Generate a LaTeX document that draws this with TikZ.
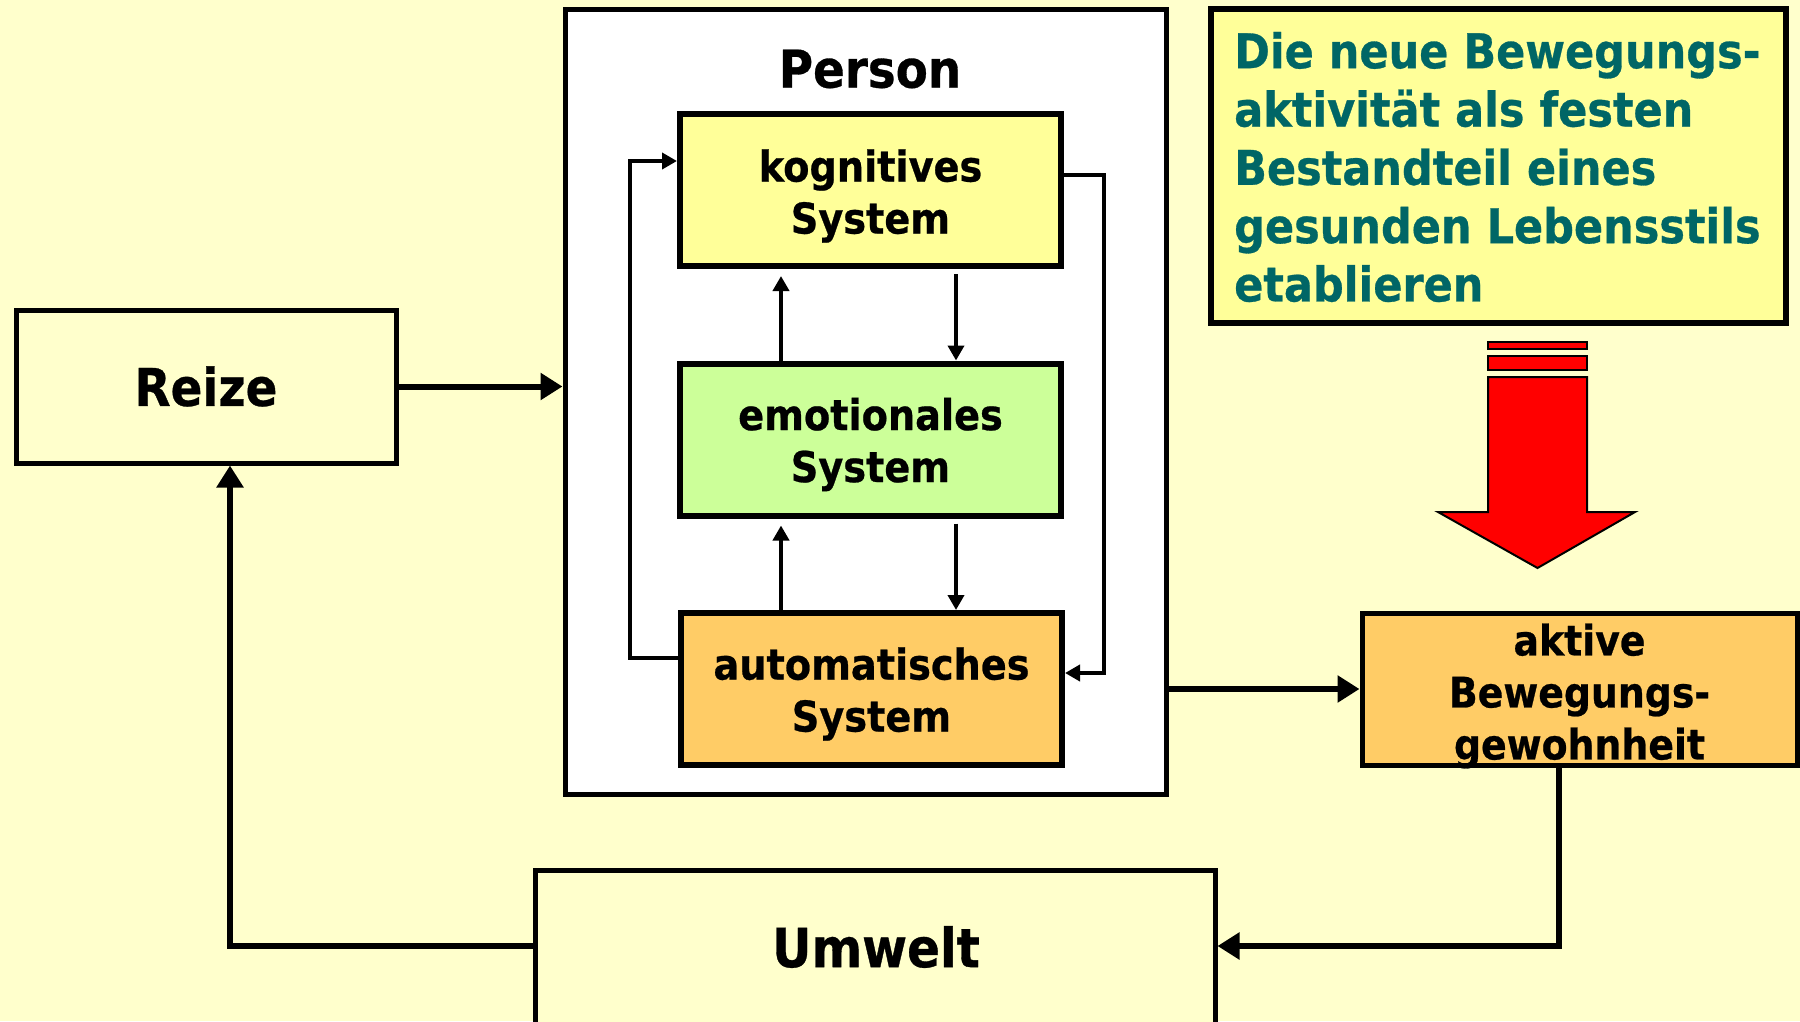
\documentclass[tikz,border=0pt]{standalone}
\usepackage{fontspec}
\setmainfont{DejaVu Sans}[FakeStretch=0.9, BoldFeatures={FakeBold=0.6}]
\usetikzlibrary{arrows.meta}
\definecolor{bgyellow}{HTML}{FFFFCC}
\definecolor{kogyellow}{HTML}{FFFF99}
\definecolor{emogreen}{HTML}{CCFF99}
\definecolor{autoorange}{HTML}{FFCC66}
\definecolor{tealtext}{HTML}{006666}
\definecolor{arrowred}{HTML}{FF0000}
\newcommand\boxfont{\fontsize{42.5}{52}\selectfont\bfseries}
\tikzset{
  plainbox/.style={draw=black, line width=5pt, rectangle, inner sep=0pt, align=center},
  innerbox/.style={draw=black, line width=6pt, rectangle, inner sep=0pt,
    minimum width=381pt, minimum height=152pt},
  boxtext/.style={inner sep=0pt, align=center, font=\boxfont},
  thickarrow/.style={line width=6pt, -{Triangle[length=22pt,width=26pt]}},
  thinarrow/.style={line width=4pt, -{Triangle[length=15pt,width=16pt]}},
}
\begin{document}
\begin{tikzpicture}[x=1pt,y=-1pt]
\fill[bgyellow] (0,0) rectangle (1800,1021);
\useasboundingbox (0,0) rectangle (1800,1021);

% person container
\node[plainbox, fill=white, minimum width=601pt, minimum height=785pt] (person) at (865.5,401.5) {};
\node[font=\fontsize{52}{58}\selectfont\bfseries, inner sep=0pt] (persontitle) at (870,69) {Person};

% inner systems
\node[innerbox, fill=kogyellow] (kog) at (870.5,190) {};
\node[innerbox, fill=emogreen] (emo) at (870.5,439.5) {};
\node[innerbox, fill=autoorange] (auto) at (871.5,689) {};
\node[boxtext] (kogtext) at ([yshift=-6pt]kog.center) {kognitives\\System};
\node[boxtext] (emotext) at ([yshift=-5pt]emo.center) {emotionales\\System};
\node[boxtext] (autotext) at ([yshift=-5pt]auto.center) {automatisches\\System};

% outer boxes
\node[plainbox, fill=bgyellow, minimum width=380pt, minimum height=153pt, font=\fontsize{52}{58}\selectfont\bfseries] (reize) at (206,386.5) {Reize};
\node[plainbox, fill=bgyellow, minimum width=680pt, minimum height=160pt] (umwelt) at (875,950) {};
\node[font=\fontsize{54}{60}\selectfont\bfseries, inner sep=0pt] (umwelttext) at (876,947) {Umwelt};
\node[plainbox, fill=autoorange, minimum width=435pt, minimum height=152pt] (aktive) at (1579.5,689) {};
\node[boxtext, font=\fontsize{42}{52}\selectfont\bfseries] (aktivetext) at ([yshift=-7pt]aktive.center) {aktive\\Bewegungs-\\gewohnheit};
\node[plainbox, line width=6pt, fill=kogyellow, minimum width=575pt, minimum height=314pt] (goal) at (1498.5,166) {};
\node[inner sep=0pt, anchor=west, align=left, text=tealtext,
  font=\fontsize{47.8}{58.3}\selectfont\bfseries] (goaltext) at (1234,167)
  {Die neue Bewegungs-\\aktivität als festen\\Bestandteil eines\\gesunden Lebensstils\\etablieren};

% red arrow
\filldraw[fill=arrowred, draw=black, line width=2pt] (1488,342) rectangle (1587,349);
\filldraw[fill=arrowred, draw=black, line width=2pt] (1488,356) rectangle (1587,370);
\filldraw[fill=arrowred, draw=black, line width=2pt, line join=miter]
  (1488,377) -- (1587,377) -- (1587,512) -- (1635,512) -- (1537.5,568) -- (1438,512) -- (1488,512) -- cycle;

% connectors
\draw[thickarrow] (reize.east) -- (reize.east -| person.west);
\draw[thinarrow, shorten >=7pt] (emo.north -| 781,0) -- (kog.south -| 781,0);
\draw[thinarrow, shorten <=5pt] (kog.south -| 956,0) -- (emo.north -| 956,0);
\draw[thinarrow, shorten >=7pt] (auto.north -| 781,0) -- (emo.south -| 781,0);
\draw[thinarrow, shorten <=5pt] (emo.south -| 956,0) -- (auto.north -| 956,0);
\draw[thinarrow] (auto.west |- 0,658) -| (630,161) -- (kog.west |- 0,161);
\draw[thinarrow] (kog.east |- 0,175) -| (1104,673) -- (auto.east |- 0,673);
\draw[thickarrow] (person.east |- aktive.west) -- (aktive.west);
\draw[thickarrow] (aktive.south -| 1559,0) |- (umwelt.east |- 0,946);
\draw[thickarrow] (umwelt.west |- 0,946) -| (reize.south -| 230,0);
\end{tikzpicture}
\end{document}
